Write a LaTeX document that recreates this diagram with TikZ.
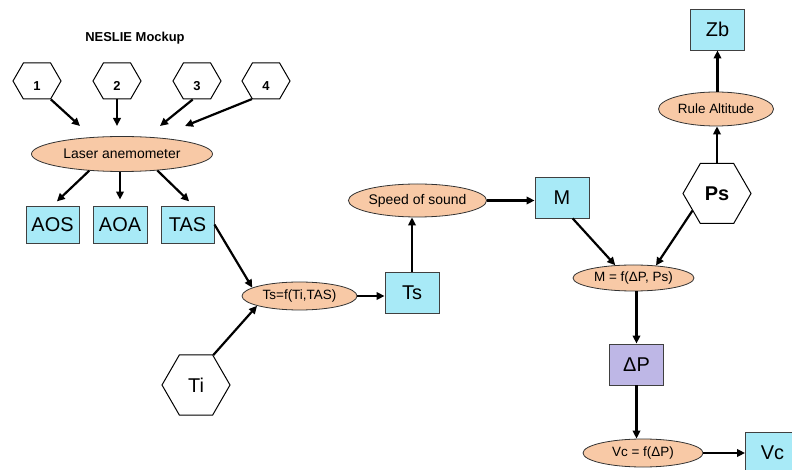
\documentclass[tikz,border=0pt]{standalone}
\usepackage{fontspec}
\setmainfont{Liberation Sans}
\usetikzlibrary{shapes.geometric,shapes.symbols,arrows.meta,calc}

\definecolor{boxblue}{HTML}{A8EAF7}
\definecolor{peach}{HTML}{F8C9A6}
\definecolor{lavender}{HTML}{BEB7E6}

\tikzset{
  box/.style={draw=black!75, line width=0.9bp, fill=boxblue, minimum width=54bp,
    minimum height=41bp, inner sep=0pt, font=\fontsize{20}{20}\selectfont},
  func/.style={ellipse, draw=black!80, line width=0.8bp, fill=peach, inner sep=0pt,
    font=\fontsize{13.5}{14}\selectfont},
  hexa/.style={signal, signal to=east and west, signal pointer angle=120, draw,
    line width=1bp, fill=white, inner sep=0pt},
  smallhex/.style={hexa, minimum width=48bp, minimum height=36bp},
  bighex/.style={hexa, minimum width=68bp, minimum height=60bp,
    font=\fontsize{20}{20}\selectfont},
  arr/.style={-{Triangle[length=8bp,width=7.5bp]}, line width=2.2bp},
  numlabel/.style={font=\fontsize{13}{13}\bfseries, yshift=-5bp}
}

\begin{document}
\begin{tikzpicture}[x=1bp,y=-1bp]
\useasboundingbox (0,0) rectangle (792,470);
\clip (0,0) rectangle (792,470);

% title
\node[font=\fontsize{13}{13}\selectfont\bfseries] (title) at (135,38) {NESLIE Mockup};

% sensor inputs
\node[smallhex, label={[numlabel]center:1}] (h1) at (37,81) {};
\node[smallhex, label={[numlabel]center:2}] (h2) at (117,81) {};
\node[smallhex, label={[numlabel]center:3}] (h3) at (197,81) {};
\node[smallhex, label={[numlabel]center:4}] (h4) at (266,81) {};

% laser anemometer and its outputs
\node[func, minimum width=181bp, minimum height=35bp, font=\fontsize{14}{14}\selectfont]
  (laser) at (122,154) {Laser anemometer};
\node[box, minimum width=53bp, minimum height=37bp] (aos) at (52.5,224.5) {AOS};
\node[box, minimum width=54bp, minimum height=37bp] (aoa) at (120,224.5) {AOA};
\node[box, minimum width=53bp, minimum height=37bp] (tas) at (187.5,224.5) {TAS};

\coordinate (e1) at (80,126);
\coordinate (e2) at (117,126);
\coordinate (e3) at (160,126);
\coordinate (e4) at (185,126);

% static temperature chain
\node[func, minimum width=115bp, minimum height=28bp] (tsf) at (299.5,296) {Ts=f(Ti,TAS)};
\node[bighex] (ti) at (196,385) {Ti};
\node[box] (ts) at (412,292.5) {Ts};
\node[func, minimum width=115bp, minimum height=33bp, font=\fontsize{14}{14}\selectfont]
  (sos) at (417.5,200.5) {Speed of sound};
\node[box] (m) at (562,197.5) {M};

% pressure chain
\node[bighex, font=\fontsize{20}{20}\selectfont\bfseries] (ps) at (717,193.5) {Ps};
\node[func, minimum width=115bp, minimum height=34bp] (rule) at (716,109) {Rule Altitude};
\node[box] (zb) at (717.5,29.5) {Zb};
\node[func, minimum width=121bp, minimum height=26bp] (mf) at (633.5,278) {M = f(ΔP, Ps)};
\node[box, fill=lavender] (dp) at (636.5,364.5) {ΔP};
\node[func, minimum width=120bp, minimum height=28bp] (vcf) at (643,453) {Vc = f(ΔP)};
\node[box] (vc) at (772.5,452.5) {Vc};

% connectors
\draw[arr] (h1.-53) -- (e1);
\draw[arr] (h2.south) -- (e2);
\draw[arr] (h3.-103) -- (e3);
\draw[arr] (h4.-128) -- (e4);

\draw[arr, shorten >=6bp] (laser.-153) -- (aos.north);
\draw[arr, shorten >=6bp] (laser.south -| aoa.north) -- (aoa.north);
\draw[arr, shorten >=6bp] (laser.-25) -- ($(tas.north)+(6,0)$);

\draw[arr] (tas.east) -- (tsf.170);
\draw[arr] (ti.60) -- (tsf.193);
\draw[arr] (tsf.east) -- (tsf.east -| ts.west);
\draw[arr] (ts.north) -- (ts.north |- sos.south);
\draw[arr] (sos.east) -- (sos.east -| m.west);
\draw[arr] (m.-63) -- (mf.145);
\draw[arr] (ps.-145) -- (mf.29);
\draw[arr] (ps.north) -- (ps.north |- rule.south);
\draw[arr] (rule.north -| zb.south) -- (zb.south);
\draw[arr] (mf.south -| dp.north) -- (dp.north);
\draw[arr] (dp.south) -- (dp.south |- vcf.north);
\draw[arr] (vcf.east) -- (vcf.east -| vc.west);
\end{tikzpicture}
\end{document}
